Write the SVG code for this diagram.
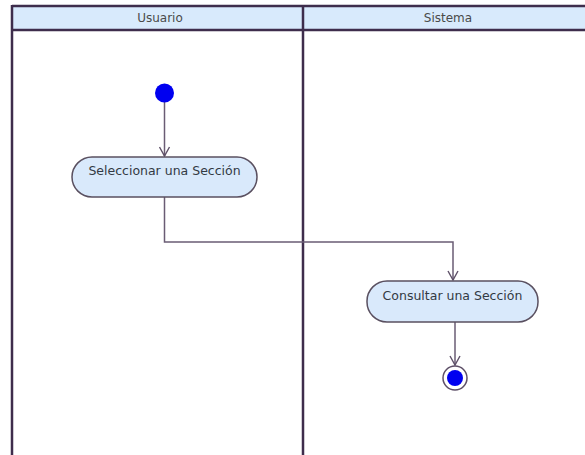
<svg xmlns="http://www.w3.org/2000/svg" width="585" height="455" viewBox="0 0 585 455">
  <defs>
    <!-- open V arrowhead, drawn along +x so orient="auto" follows the line -->
    <marker id="open-arrow" markerWidth="12" markerHeight="12" refX="10" refY="6" orient="auto" markerUnits="userSpaceOnUse" viewBox="0 0 12 12">
      <path d="M1,1 L10,6 L1,11" fill="none" stroke="#5e5068" stroke-width="1.4"/>
    </marker>
  </defs>
  <style>
    .lane { fill: none; stroke: #3e2d4c; stroke-width: 2.5; }
    .header { fill: #d8eafc; }
    .lane-title { font-family: "DejaVu Sans", sans-serif; font-size: 12px; fill: #4a4a4a; text-anchor: middle; }
    .action { fill: #d9e9fb; stroke: #5a5060; stroke-width: 1.5; }
    .label { font-family: "DejaVu Sans", sans-serif; font-size: 12.5px; fill: #333a44; text-anchor: middle; }
    .flow { fill: none; stroke: #6a5c74; stroke-width: 1.5; marker-end: url(#open-arrow); }
    .dot { fill: #0000f0; }
  </style>
  <rect width="585" height="455" fill="#ffffff"/>

  <!-- swimlanes -->
  <g id="lanes">
    <rect class="header" x="12" y="6" width="590" height="24"/>
    <line class="lane" x1="12" y1="6" x2="600" y2="6"/>
    <line class="lane" x1="12" y1="30" x2="600" y2="30"/>
    <line class="lane" x1="12" y1="5" x2="12" y2="460"/>
    <line class="lane" x1="303" y1="5" x2="303" y2="460"/>
    <text class="lane-title" x="160" y="22">Usuario</text>
    <text class="lane-title" x="448" y="22">Sistema</text>
  </g>

  <!-- connectors -->
  <g id="connectors">
    <path class="flow" d="M164.5,102 L164.5,156"/>
    <path class="flow" d="M164.5,197 L164.5,242 L453,242 L453,280"/>
    <path class="flow" d="M455,322 L455,365"/>
  </g>

  <g id="start">
    <circle class="dot" cx="164.5" cy="93" r="9.5"/>
  </g>

  <g id="seleccionar">
    <rect class="action" x="72" y="157" width="185" height="40" rx="20" ry="20"/>
    <text class="label" x="164.5" y="175">Seleccionar una Sección</text>
  </g>

  <g id="consultar">
    <rect class="action" x="367" y="281" width="171" height="41" rx="20" ry="20"/>
    <text class="label" x="452.5" y="300">Consultar una Sección</text>
  </g>

  <g id="end">
    <circle cx="455" cy="378" r="12" fill="#ffffff" stroke="#5e5068" stroke-width="1.5"/>
    <circle class="dot" cx="455" cy="378" r="8"/>
  </g>
</svg>
